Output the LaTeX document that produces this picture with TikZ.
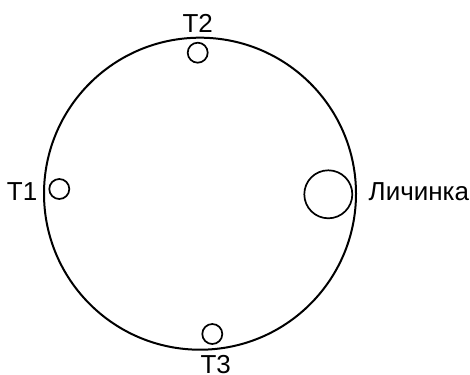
\documentclass[tikz,border=0pt]{standalone}
\usepackage{fontspec}
\setmainfont{Liberation Sans}
\usetikzlibrary{positioning}

\begin{document}
\begin{tikzpicture}[
  x=0.5pt,y=-0.5pt,
  dish/.style={circle,draw=black,line width=1pt,minimum size=156pt,inner sep=0pt},
  trap/.style={circle,draw=black,line width=0.85pt,minimum size=10pt,inner sep=0pt},
  larva/.style={circle,draw=black,line width=0.85pt,minimum size=24pt,inner sep=0pt},
  lbl/.style={inner sep=0pt,font=\fontsize{13}{15.6}\selectfont}
]
\useasboundingbox (0,0) rectangle (470,374);
\node[dish] (dish) at (200,193.7) {};
\node[trap] (t1) at (59.3,189) {};
\node[trap] (t2) at (197.7,52.7) {};
\node[trap] (t3) at (212.3,334) {};
\node[larva] (lar) at (328.3,194.3) {};
\node[lbl,anchor=east] (t1lbl) at (37.7,191.7) {T1};
\node[lbl] (t2lbl) at (197.7,23.3) {T2};
\node[lbl] (t3lbl) at (215.7,365) {T3};
\node[lbl,anchor=west] (larlbl) at (368.3,191.7) {Личинка};
\end{tikzpicture}
\end{document}
